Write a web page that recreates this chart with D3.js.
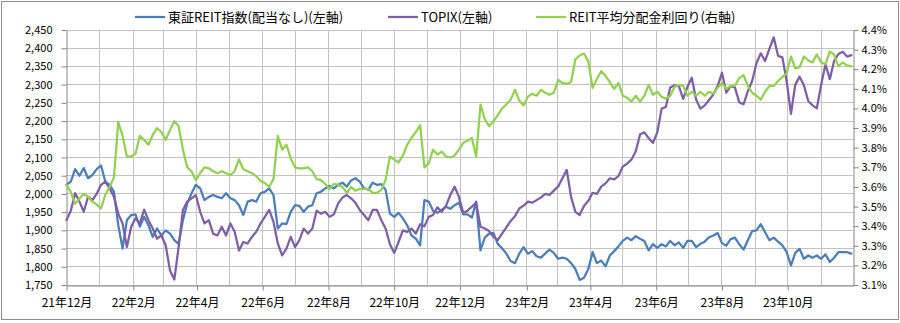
<!DOCTYPE html>
<html>
<head>
<meta charset="utf-8">
<script src="https://cdn.jsdelivr.net/npm/d3@7/dist/d3.min.js"></script>
<style>
  html, body { margin: 0; padding: 0; background: #fff; }
  svg { display: block; font-family: "Noto Sans CJK JP", "Noto Sans", sans-serif; }
</style>
</head>
<body>
<svg id="chart" width="900" height="323"></svg>
<script>
// Sampling: one observation every 4 calendar days from 2021-12-01
const startDate = new Date(2021, 11, 1);
const stepDays = 4;

// 東証REIT指数(配当なし) — left axis
const reitIndex = [
  2025, 2034, 2068, 2050, 2071, 2043, 2052, 2068, 2078, 2034, 2025, 2006, 1915, 1850, 1928, 1942,
  1944, 1910, 1937, 1914, 1882, 1905, 1886, 1900, 1891, 1873, 1863, 1928, 1974, 2002, 2025, 2015,
  1983, 1992, 1997, 1992, 1988, 2002, 1988, 1983, 1969, 1942, 1979, 1983,
  1979, 2002, 2006, 2015, 1997, 1905, 1919, 1917, 1951, 1969, 1967, 1951, 1965, 1969, 2002, 2006,
  2015, 2022, 2015, 2025, 2031, 2020, 2037, 2043, 2034, 2015, 2012, 2031, 2025, 2027, 2011, 1946,
  1937, 1948, 1933, 1914, 1886, 1877, 1859, 1983, 1979, 1954, 1948, 1956, 1965,
  1959, 1969, 1976, 1944, 1944, 1935, 1979, 1845, 1880, 1891, 1893, 1863, 1851, 1836, 1816, 1810,
  1836, 1854, 1836, 1843, 1829, 1825, 1836, 1847, 1838, 1822, 1825, 1822, 1810, 1794, 1764, 1770,
  1794, 1840, 1810, 1817, 1801, 1831, 1843, 1856, 1871, 1880, 1873, 1884, 1877,
  1871, 1845, 1862, 1852, 1862, 1856, 1871, 1859, 1867, 1852, 1871, 1871, 1854, 1863, 1869, 1881,
  1886, 1893, 1865, 1858, 1876, 1880, 1862, 1847, 1873, 1898, 1900, 1917, 1895, 1873, 1880, 1869,
  1859, 1840, 1804, 1838, 1849, 1822, 1831, 1825, 1831, 1822, 1834, 1813, 1825, 1840, 1840, 1840, 1836
];

// TOPIX — left axis
const topix = [
  1928, 1954, 2002, 1979, 1951, 1992, 1983, 2000, 2025, 2034, 2015, 1992, 1946, 1919, 1854, 1910,
  1933, 1919, 1957, 1928, 1905, 1877, 1886, 1859, 1790, 1765, 1854, 1956, 1979, 1988, 1997, 1951,
  1919, 1928, 1891, 1886, 1910, 1886, 1919, 1896, 1845, 1868, 1864, 1882,
  1896, 1919, 1937, 1956, 1923, 1864, 1831, 1850, 1882, 1854, 1873, 1905, 1891, 1905, 1954, 1946,
  1951, 1937, 1944, 1974, 1990, 1997, 1988, 1976, 1956, 1942, 1928, 1956, 1956, 1928, 1905, 1862,
  1838, 1868, 1900, 1896, 1905, 1891, 1917, 1911, 1937, 1942, 1963, 1951, 1967,
  1997, 2020, 1992, 1948, 1954, 1965, 1976, 1910, 1905, 1898, 1882, 1873, 1891, 1908, 1926, 1939,
  1960, 1968, 1979, 1976, 1983, 1990, 2000, 1997, 2009, 2020, 2043, 2066, 1992, 1951, 1942, 1967,
  1981, 2003, 2000, 2020, 2029, 2043, 2040, 2049, 2075, 2083, 2094, 2117, 2163,
  2169, 2153, 2140, 2169, 2234, 2239, 2292, 2298, 2296, 2261, 2294, 2319, 2259, 2234, 2243, 2258,
  2273, 2296, 2333, 2278, 2296, 2292, 2252, 2246, 2282, 2310, 2359, 2386, 2365, 2398, 2430, 2379,
  2375, 2310, 2220, 2300, 2322, 2298, 2255, 2243, 2235, 2300, 2356, 2315, 2365, 2384, 2390, 2377, 2381
];

// REIT平均分配金利回り (%) — right axis
const reitYield = [
  3.61, 3.575, 3.515, 3.54, 3.565, 3.55, 3.525, 3.51, 3.49, 3.56, 3.60, 3.65, 3.93, 3.86, 3.755, 3.755,
  3.77, 3.86, 3.84, 3.815, 3.865, 3.90, 3.88, 3.84, 3.89, 3.935, 3.91, 3.79, 3.70, 3.68, 3.635, 3.67,
  3.70, 3.695, 3.68, 3.67, 3.68, 3.67, 3.66, 3.68, 3.74, 3.69, 3.68, 3.67,
  3.655, 3.63, 3.62, 3.60, 3.64, 3.86, 3.79, 3.815, 3.745, 3.70, 3.695, 3.695, 3.70, 3.68, 3.64, 3.635,
  3.615, 3.59, 3.615, 3.61, 3.60, 3.57, 3.60, 3.58, 3.59, 3.59, 3.59, 3.57, 3.57, 3.585, 3.635, 3.755,
  3.74, 3.725, 3.76, 3.815, 3.85, 3.88, 3.915, 3.70, 3.72, 3.79, 3.765, 3.78, 3.755,
  3.75, 3.76, 3.79, 3.825, 3.835, 3.85, 3.755, 4.02, 3.945, 3.91, 3.935, 3.965, 4.00, 4.02, 4.045, 4.095,
  4.04, 4.015, 4.06, 4.075, 4.065, 4.095, 4.08, 4.07, 4.08, 4.145, 4.13, 4.125, 4.135, 4.25, 4.27, 4.28,
  4.24, 4.105, 4.15, 4.19, 4.165, 4.135, 4.10, 4.13, 4.065, 4.055, 4.035, 4.065, 4.035,
  4.065, 4.12, 4.07, 4.085, 4.06, 4.05, 4.065, 4.11, 4.12, 4.115, 4.065, 4.085, 4.065, 4.085, 4.065, 4.085,
  4.075, 4.105, 4.13, 4.10, 4.115, 4.115, 4.155, 4.17, 4.115, 4.08, 4.065, 4.045, 4.085, 4.115, 4.115, 4.14,
  4.16, 4.18, 4.265, 4.205, 4.21, 4.265, 4.245, 4.235, 4.275, 4.235, 4.225, 4.29, 4.275, 4.215, 4.235, 4.22, 4.215
];

// Axis ticks
const leftTicks = d3.range(1750, 2451, 50);
const rightTicks = d3.range(31, 45).map(v => v / 10);
const monthTicks = d3.timeMonth.range(new Date(2021, 11, 1), new Date(2023, 11, 1), 2);

const seriesInfo = [
  { name: "東証REIT指数(配当なし)(左軸)", values: reitIndex, axis: "left",  color: "#4A7EBB" },
  { name: "TOPIX(左軸)",                 values: topix,     axis: "left",  color: "#7E5EA6" },
  { name: "REIT平均分配金利回り(右軸)",   values: reitYield, axis: "right", color: "#92D050" }
];

const dates = reitIndex.map((_, i) => d3.timeDay.offset(startDate, i * stepDays));

const svg = d3.select("#chart");
const W = 900, H = 323;
const plot = { left: 66.5, right: 853.5, top: 30, bottom: 285 };

svg.append("rect").attr("x", 0).attr("y", 0).attr("width", W).attr("height", H).attr("fill", "#fff");
svg.append("rect")
  .attr("x", 1.5).attr("y", 1.5).attr("width", 897).attr("height", 318)
  .attr("fill", "none").attr("stroke", "#8c8c8c").attr("stroke-width", 1);

const x = d3.scaleTime()
  .domain([new Date(2021, 11, 1), new Date(2023, 11, 1)])
  .range([plot.left, plot.right]);
const yL = d3.scaleLinear().domain([1750, 2450]).range([plot.bottom, plot.top]);
const yR = d3.scaleLinear().domain([3.1, 4.4]).range([plot.bottom, plot.top]);

const crisp = v => Math.round(v - 0.5) + 0.5;

// Gridlines: every 50 points and every month
const grid = svg.append("g").attr("stroke", "#c3c3c3").attr("stroke-width", 1);
leftTicks.forEach(v => {
  grid.append("line")
    .attr("x1", plot.left).attr("x2", plot.right)
    .attr("y1", crisp(yL(v))).attr("y2", crisp(yL(v)));
});
d3.timeMonth.range(new Date(2022, 0, 1), new Date(2023, 11, 1)).forEach(d => {
  grid.append("line")
    .attr("x1", crisp(x(d))).attr("x2", crisp(x(d)))
    .attr("y1", plot.top).attr("y2", plot.bottom);
});

// Axes
function styleAxis(size) {
  return g => {
    g.selectAll("path.domain").attr("stroke", "#868686");
    g.selectAll(".tick line").attr("stroke", "#868686");
    g.selectAll("text").attr("fill", "#000").attr("font-size", size)
      .attr("font-family", "'Noto Sans CJK JP', sans-serif");
  };
}

svg.append("g")
  .attr("transform", `translate(${crisp(plot.left)},0)`)
  .call(d3.axisLeft(yL).tickValues(leftTicks).tickFormat(d3.format(",")).tickSize(5).tickSizeOuter(0).tickPadding(9))
  .call(styleAxis("11px"));

svg.append("g")
  .attr("transform", `translate(${crisp(plot.right)},0)`)
  .call(d3.axisRight(yR).tickValues(rightTicks).tickFormat(d => d.toFixed(1) + "%").tickSize(5).tickSizeOuter(0).tickPadding(3))
  .call(styleAxis("11px"));

const fmtMonth = d => `${String(d.getFullYear()).slice(2)}年${d.getMonth() + 1}月`;
svg.append("g")
  .attr("transform", `translate(0,${crisp(plot.bottom)})`)
  .call(d3.axisBottom(x).tickValues(monthTicks).tickFormat(fmtMonth).tickSize(5).tickSizeOuter(0).tickPadding(8))
  .call(styleAxis("12px"));

// Series lines
seriesInfo.forEach(s => {
  const y = s.axis === "left" ? yL : yR;
  const line = d3.line()
    .x((d, i) => x(dates[i]))
    .y(d => y(d));
  svg.append("path")
    .datum(s.values)
    .attr("d", line)
    .attr("fill", "none")
    .attr("stroke", s.color)
    .attr("stroke-width", 2.25)
    .attr("stroke-linejoin", "round")
    .attr("stroke-linecap", "round");
});

// Legend
const legendPos = [135, 388, 536];
const legend = svg.append("g");
seriesInfo.forEach((s, i) => {
  const g = legend.append("g").attr("transform", `translate(${legendPos[i]},17)`);
  g.append("line").attr("x1", 0).attr("x2", 30).attr("y1", 0).attr("y2", 0)
    .attr("stroke", s.color).attr("stroke-width", 2.25);
  g.append("text").attr("x", 33).attr("y", 0).attr("dy", "0.36em")
    .attr("font-size", "13px").attr("fill", "#000").text(s.name);
});
</script>
</body>
</html>
